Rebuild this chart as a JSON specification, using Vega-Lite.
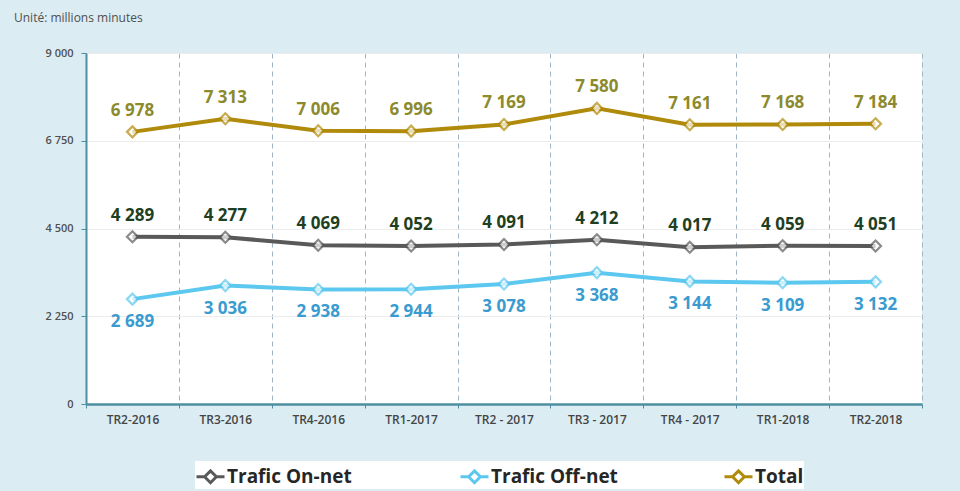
{
  "$schema": "https://vega.github.io/schema/vega-lite/v6.json",
  "autosize": "none",
  "width": 836,
  "height": 351,
  "padding": {"left": 86, "top": 53, "right": 38, "bottom": 87},
  "background": "#dbedf3",
  "config": {
    "locale": {"number": {"decimal": ",", "thousands": " ", "grouping": [3], "currency": ["", " €"]}},
    "view": {"fill": "white", "stroke": null},
    "font": "Open Sans"
  },
  "title": {
    "text": "Unité: millions minutes",
    "anchor": "start",
    "frame": "group",
    "orient": "top",
    "dx": -72,
    "offset": 22,
    "fontSize": 12,
    "fontWeight": "normal",
    "color": "#505050",
    "font": "Open Sans"
  },
  "data": {
    "values": [
      {"period": "TR2-2016", "series": "Trafic On-net", "value": 4289},
      {"period": "TR3-2016", "series": "Trafic On-net", "value": 4277},
      {"period": "TR4-2016", "series": "Trafic On-net", "value": 4069},
      {"period": "TR1-2017", "series": "Trafic On-net", "value": 4052},
      {"period": "TR2 - 2017", "series": "Trafic On-net", "value": 4091},
      {"period": "TR3 - 2017", "series": "Trafic On-net", "value": 4212},
      {"period": "TR4 - 2017", "series": "Trafic On-net", "value": 4017},
      {"period": "TR1-2018", "series": "Trafic On-net", "value": 4059},
      {"period": "TR2-2018", "series": "Trafic On-net", "value": 4051},
      {"period": "TR2-2016", "series": "Trafic Off-net", "value": 2689},
      {"period": "TR3-2016", "series": "Trafic Off-net", "value": 3036},
      {"period": "TR4-2016", "series": "Trafic Off-net", "value": 2938},
      {"period": "TR1-2017", "series": "Trafic Off-net", "value": 2944},
      {"period": "TR2 - 2017", "series": "Trafic Off-net", "value": 3078},
      {"period": "TR3 - 2017", "series": "Trafic Off-net", "value": 3368},
      {"period": "TR4 - 2017", "series": "Trafic Off-net", "value": 3144},
      {"period": "TR1-2018", "series": "Trafic Off-net", "value": 3109},
      {"period": "TR2-2018", "series": "Trafic Off-net", "value": 3132},
      {"period": "TR2-2016", "series": "Total", "value": 6978},
      {"period": "TR3-2016", "series": "Total", "value": 7313},
      {"period": "TR4-2016", "series": "Total", "value": 7006},
      {"period": "TR1-2017", "series": "Total", "value": 6996},
      {"period": "TR2 - 2017", "series": "Total", "value": 7169},
      {"period": "TR3 - 2017", "series": "Total", "value": 7580},
      {"period": "TR4 - 2017", "series": "Total", "value": 7161},
      {"period": "TR1-2018", "series": "Total", "value": 7168},
      {"period": "TR2-2018", "series": "Total", "value": 7184}
    ]
  },
  "encoding": {
    "x": {
      "field": "period",
      "type": "nominal",
      "sort": null,
      "scale": {"type": "band", "paddingInner": 0, "paddingOuter": 0},
      "axis": {
        "title": null,
        "labelAngle": 0,
        "labelFontSize": 12,
        "labelFont": "Open Sans",
        "labelFontWeight": 600,
        "labelColor": "#454545",
        "labelPadding": 6,
        "tickBand": "extent",
        "ticks": true,
        "tickSize": 4,
        "tickColor": "#4d8fa0",
        "domainColor": "#4d8fa0",
        "domainWidth": 2.5,
        "grid": true,
        "gridDash": [5, 4],
        "gridColor": "#9fb4c4",
        "gridWidth": 1
      }
    },
    "y": {
      "field": "value",
      "type": "quantitative",
      "scale": {"domain": [0, 9000], "nice": false},
      "axis": {
        "title": null,
        "values": [0, 2250, 4500, 6750, 9000],
        "format": ",d",
        "labelFontSize": 11,
        "labelFontWeight": 600,
        "labelColor": "#505050",
        "labelPadding": 8,
        "tickSize": 5,
        "tickColor": "#4d8fa0",
        "domainColor": "#4d8fa0",
        "domainWidth": 2,
        "grid": true,
        "gridColor": "#ececec",
        "gridWidth": 1
      }
    }
  },
  "layer": [
    {
      "mark": {"type": "line", "strokeWidth": 4},
      "encoding": {
        "color": {
          "field": "series",
          "type": "nominal",
          "scale": {"domain": ["Trafic On-net", "Trafic Off-net", "Total"], "range": ["#595959", "#5cc8ef", "#b08a0a"]},
          "legend": {
            "title": null,
            "orient": "none",
            "legendX": 109,
            "legendY": 408,
            "direction": "horizontal",
            "fillColor": "white",
            "padding": 0,
            "columnPadding": 100,
            "gridAlign": "all",
            "labelFontSize": 19,
            "labelFontWeight": "bold",
            "labelColor": "#262626",
            "labelFont": "Open Sans",
            "labelOffset": 1,
            "symbolType": "M-1,0H-0.42M0.42,0H1M-0.42,0L0,-0.42L0.42,0L0,0.42Z",
            "symbolSize": 784,
            "symbolStrokeWidth": 3,
            "symbolFillColor": "white"
          }
        }
      }
    },
    {
      "mark": {"type": "point", "shape": "diamond", "filled": true, "fill": "white", "size": 120, "strokeWidth": 2.2},
      "encoding": {
        "stroke": {"field": "series", "type": "nominal", "scale": {"domain": ["Trafic On-net", "Trafic Off-net", "Total"], "range": ["#595959", "#5cc8ef", "#b08a0a"]}, "legend": null}
      }
    },
    {
      "transform": [{"filter": "datum.series !== 'Trafic Off-net'"}],
      "mark": {"type": "text", "dy": -21, "fontSize": 17, "fontWeight": "bold", "font": "Open Sans"},
      "encoding": {
        "text": {"field": "value", "type": "quantitative", "format": ",d"},
        "fill": {"field": "series", "type": "nominal", "scale": {"domain": ["Trafic On-net", "Total"], "range": ["#1f3f22", "#8c8a2c"]}, "legend": null}
      }
    },
    {
      "transform": [{"filter": "datum.series === 'Trafic Off-net'"}],
      "mark": {"type": "text", "dy": 23, "fontSize": 17, "fontWeight": "bold", "font": "Open Sans", "color": "#3a9bd0"},
      "encoding": {
        "text": {"field": "value", "type": "quantitative", "format": ",d"}
      }
    }
  ],
  "resolve": {"scale": {"fill": "independent"}}
}
